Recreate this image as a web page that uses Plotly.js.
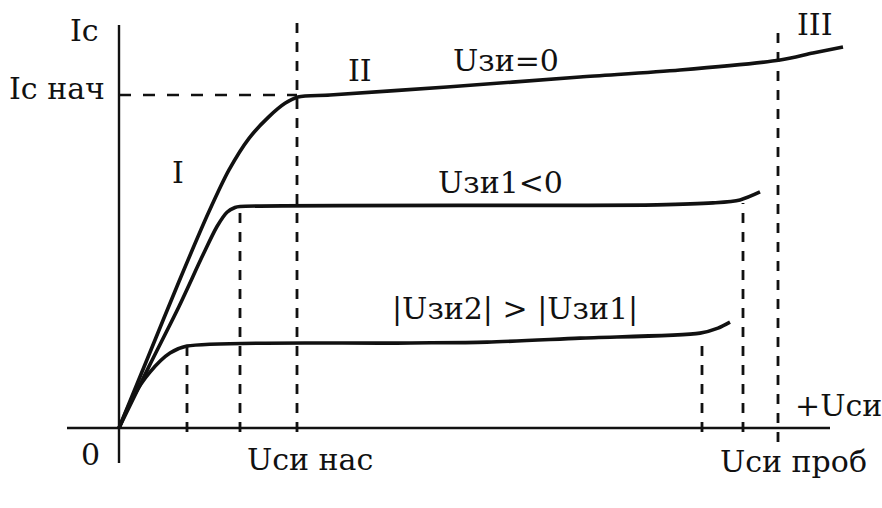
<!DOCTYPE html>
<html>
<head>
<meta charset="utf-8">
<script src="https://cdn.plot.ly/plotly-3.0.1.min.js"></script>
<style>
  html, body { margin: 0; padding: 0; background: #ffffff; }
  #chart { width: 882px; height: 508px; }
</style>
</head>
<body>
<div id="chart"></div>
<script>
// Output characteristics of a JFET: drain current Ic versus drain-source voltage Uси
// for three gate-source voltages (arbitrary units).

// Uзи = 0
const usi0 = [0, 1.5, 3.0, 4.5, 5.5, 6.5, 7.5, 8.3, 8.95, 10.55, 16.4, 23.05, 28.05, 33.05, 34.7, 36.2];
const ic0  = [0, 2.2, 4.4, 6.5, 7.75, 8.7, 9.35, 9.75, 9.94, 10.0, 10.24, 10.54, 10.75, 11.05, 11.26, 11.44];

// Uзи1 < 0
const usi1 = [0, 1.5, 3.0, 4.2, 4.9, 5.4, 5.8, 6.05, 26.9, 29.7, 31.05, 32.05];
const ic1  = [0, 1.85, 3.65, 5.2, 6.05, 6.48, 6.62, 6.65, 6.70, 6.76, 6.85, 7.09];

// |Uзи2| > |Uзи1|
const usi2 = [0, 0.7, 1.55, 2.55, 3.4, 13.9, 18.4, 23.05, 29.05, 29.95, 30.55];
const ic2  = [0, 0.93, 1.68, 2.25, 2.46, 2.55, 2.58, 2.70, 2.85, 3.0, 3.18];

// Characteristic points
const icNach = 10.0;                       // Ic нач
const usiSat = [3.4, 6.05, 8.9];           // saturation voltages (Uси нас)
const icSatTop = [2.46, 6.64, 12.25];      // upper ends of the saturation guides
const usiBr = [29.15, 31.2, 32.95];        // breakdown voltages (Uси проб)
const icBrTop = [2.70, 6.76, 11.86];
const icBrBottom = [-0.12, -0.12, -0.42];

// Axes extents
const xAxisSpan = [-2.6, 35.55];
const yAxisSpan = [-1.05, 12.1];

const ink = '#111111';
const traces = [];

function curve(x, y, width) {
  traces.push({
    x: x, y: y, type: 'scatter', mode: 'lines', hoverinfo: 'skip',
    line: { color: ink, width: width, shape: 'spline', smoothing: 0.8 }
  });
}
function straight(x, y, width, dash) {
  traces.push({
    x: x, y: y, type: 'scatter', mode: 'lines', hoverinfo: 'skip',
    line: { color: ink, width: width, dash: dash || 'solid' }
  });
}

// coordinate axes
straight(xAxisSpan, [0, 0], 2.4);
straight([0, 0], yAxisSpan, 2.4);

// Ic нач level
straight([0, usiSat[2]], [icNach, icNach], 2.6, '12px,12px');

// saturation and breakdown guides
for (let i = 0; i < usiSat.length; i++) {
  straight([usiSat[i], usiSat[i]], [-0.12, icSatTop[i]], 2.8, '10px,9px');
  straight([usiBr[i], usiBr[i]], [icBrBottom[i], icBrTop[i]], 2.8, '10px,9px');
}

// characteristics
curve(usi0, ic0, 3.6);
curve(usi1, ic1, 3.6);
curve(usi2, ic2, 3.6);

const font = { family: 'DejaVu Serif, Liberation Serif, serif', size: 30, color: ink };
function label(text, x, y, xanchor) {
  return { text: text, x: x, y: y, xref: 'x', yref: 'y', showarrow: false,
           xanchor: xanchor || 'center', yanchor: 'middle', font: font };
}

const annotations = [
  label('Ic', -1.75, 11.95),
  label('Ic нач', -0.6, 10.2, 'right'),
  label('I', 2.95, 7.66),
  label('II', 12.05, 10.75),
  label('III', 34.8, 12.13),
  label('Uзи=0', 19.35, 11.05),
  label('Uзи1<0', 19.05, 7.36),
  label('|Uзи2| > |Uзи1|', 19.8, 3.6),
  label('0', -1.45, -0.81),
  label('Uси нас', 9.55, -0.96),
  label('+Uси', 33.7, 0.69, 'left'),
  label('Uси проб', 29.95, -1.02, 'left')
];

const layout = {
  width: 882, height: 508,
  margin: { l: 0, r: 0, t: 0, b: 0 },
  paper_bgcolor: '#ffffff', plot_bgcolor: '#ffffff',
  showlegend: false,
  xaxis: { range: [-5.95, 38.15], visible: false, fixedrange: true },
  yaxis: { range: [-2.4024, 12.8529], visible: false, fixedrange: true },
  annotations: annotations
};

Plotly.newPlot('chart', traces, layout, { staticPlot: true, displayModeBar: false });
</script>
</body>
</html>
